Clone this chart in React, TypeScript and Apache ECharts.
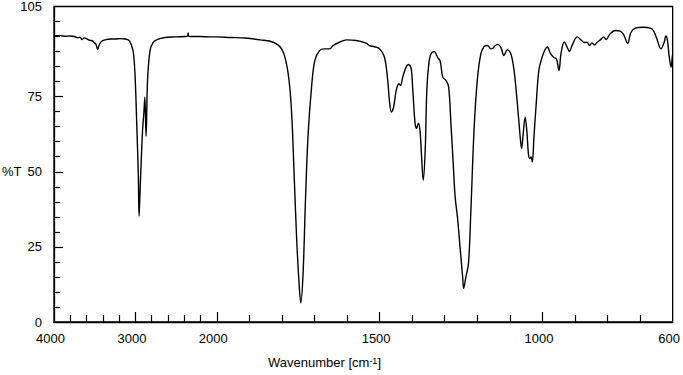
import React, { useEffect, useRef } from 'react';
import * as echarts from 'echarts';

const wavenumbers = [
  4000, 3926, 3860, 3803, 3750, 3705, 3680, 3656, 3630, 3607, 3580, 3557, 3530, 3508, 3485, 3463, 3445, 3420, 3373, 3300,
  3250, 3180, 3127, 3078, 3053, 3025, 3004, 2983, 2964, 2955, 2945, 2934, 2912, 2895, 2884, 2869, 2851, 2820, 2783, 2734,
  2636, 2513, 2390, 2360, 2353, 2345, 2300, 2205, 2082, 2000, 1959, 1913, 1867, 1827, 1801, 1786, 1776, 1769, 1763, 1755,
  1748, 1742, 1735, 1728, 1720, 1709, 1699, 1684, 1669, 1653, 1643, 1623, 1602, 1572, 1541, 1531, 1516, 1500, 1485, 1475,
  1470, 1464, 1457, 1449, 1441, 1436, 1429, 1419, 1411, 1403, 1398, 1391, 1386, 1381, 1376, 1371, 1366, 1360, 1355, 1349,
  1342, 1332, 1322, 1314, 1306, 1296, 1288, 1281, 1274, 1268, 1261, 1253, 1245, 1242, 1235, 1227, 1220, 1210, 1200, 1189,
  1179, 1169, 1158, 1151, 1148, 1138, 1128, 1118, 1108, 1097, 1087, 1077, 1070, 1064, 1059, 1053, 1048, 1043, 1039, 1035,
  1031, 1026, 1019, 1011, 1001, 992, 985, 975, 965, 957, 949, 943, 933, 922, 917, 909, 893, 883, 871, 863,
  855, 848, 840, 832, 822, 812, 804, 793, 776, 761, 751, 738, 729, 715, 689, 669, 659, 649, 636, 626,
  621, 616, 611, 605, 601, 600,
];

const transmittance = [
  95.3, 95.3, 95.1, 95.2, 95.0, 94.6, 94.8, 94.0, 94.5, 94.4, 94.0, 93.7, 93.6, 93.0, 92.4, 90.7, 92.2, 93.3, 93.9, 94.2,
  94.2, 94.3, 94.2, 93.7, 92.4, 89.7, 82.0, 65.4, 48.8, 35.2, 42.0, 49.8, 63.8, 70.0, 74.8, 61.8, 80.4, 90.4, 93.0, 94.0,
  94.7, 94.9, 95.0, 95.1, 96.2, 95.1, 95.0, 95.0, 94.9, 94.9, 94.7, 94.5, 93.9, 93.1, 90.9, 85.9, 78.2, 67.1, 50.5, 28.3,
  14.0, 6.3, 16.3, 39.5, 61.6, 78.2, 87.0, 90.4, 90.9, 90.9, 92.0, 93.1, 93.9, 93.7, 92.8, 92.0, 91.6, 90.9, 88.1, 80.4,
  73.8, 69.9, 71.5, 77.1, 79.3, 78.7, 81.5, 84.8, 85.7, 84.3, 77.1, 66.0, 64.4, 66.2, 63.8, 54.9, 47.2, 57.1, 77.1, 85.9,
  89.3, 90.0, 88.1, 86.8, 81.5, 80.4, 78.2, 66.1, 52.8, 41.6, 35.0, 25.0, 15.0, 11.2, 15.0, 19.5, 36.1, 63.8, 80.4, 89.3,
  91.7, 92.0, 90.9, 91.2, 91.7, 92.4, 91.5, 88.7, 90.6, 89.3, 83.7, 72.7, 63.8, 57.7, 62.7, 68.2, 63.8, 56.0, 54.4, 54.9,
  53.3, 61.6, 72.7, 83.7, 88.1, 90.6, 91.5, 89.3, 88.0, 87.6, 83.7, 89.3, 93.2, 91.0, 90.0, 92.0, 94.9, 94.0, 93.0, 93.1,
  92.0, 92.9, 92.2, 93.1, 93.9, 94.9, 94.0, 95.8, 97.0, 96.8, 95.7, 92.7, 96.2, 97.8, 98.1, 97.8, 97.0, 94.4, 90.9, 93.1,
  95.2, 93.7, 88.7, 84.8, 88.4, 89.0,
];

const xLabelValues = [4000, 3000, 2000, 1500, 1000, 600];
const xMajorTicks = [3000, 2000, 1500, 1000];
const xMinorTicks = [3800, 3600, 3400, 3200, 2800, 2600, 2400, 2200, 1900, 1800, 1700, 1600, 1400, 1300, 1200, 1100, 900, 800, 700];
const yLabelValues = [0, 25, 50, 75, 105];
const yMajorTicks = [25, 50, 75];
const yMinorTicks = [5, 10, 15, 20, 30, 35, 40, 45, 55, 60, 65, 70, 80, 85, 90, 95, 100];

// piecewise axis: 4000-2000 compressed by factor 4
const toT = (w: number) => (w >= 2000 ? (4000 - w) / 4 : 500 + (2000 - w));
const toW = (t: number) => (t <= 500 ? 4000 - 4 * t : 2000 - (t - 500));

const FONT = "'Liberation Sans', Arial, sans-serif";

export default function App() {
  const ref = useRef<HTMLDivElement>(null);
  useEffect(() => {
    if (!ref.current) return;
    const chart = echarts.init(ref.current, undefined, { renderer: 'svg' });
    const data = wavenumbers.map((w, i) => [toT(w), transmittance[i]]);
    const baseX = {
      type: 'value' as const,
      min: 0,
      max: 1900,
      position: 'bottom' as const,
      splitLine: { show: false },
    };
    const baseY = {
      type: 'value' as const,
      min: 0,
      max: 105,
      position: 'left' as const,
      splitLine: { show: false },
    };
    chart.setOption({
      animation: false,
      backgroundColor: '#fff',
      grid: {
        left: 54,
        right: 8,
        top: 6,
        bottom: 53,
        show: true,
        borderColor: '#000',
        borderWidth: 1.3,
      },
      xAxis: [
        {
          ...baseX,
          axisLine: { show: true, lineStyle: { color: '#000', width: 1.3 } },
          axisTick: {
            show: true,
            inside: true,
            length: 7,
            customValues: xMinorTicks.map(toT),
            lineStyle: { color: '#000', width: 1.2 },
          },
          axisLabel: {
            show: true,
            customValues: xLabelValues.map(toT),
            formatter: (v: number) => String(Math.round(toW(v))),
            color: '#000',
            fontFamily: FONT,
            fontSize: 13,
            margin: 10,
            padding: [0, 7, 0, 0],
          },
        },
        {
          ...baseX,
          axisLine: { show: false },
          axisTick: {
            show: true,
            inside: true,
            length: 10,
            customValues: xMajorTicks.map(toT),
            lineStyle: { color: '#000', width: 1.2 },
          },
          axisLabel: { show: false },
        },
      ],
      yAxis: [
        {
          ...baseY,
          axisLine: { show: true, lineStyle: { color: '#000', width: 1.3 } },
          axisTick: {
            show: true,
            inside: true,
            length: 6,
            customValues: yMinorTicks,
            lineStyle: { color: '#000', width: 1.2 },
          },
          axisLabel: {
            show: true,
            customValues: yLabelValues,
            color: '#000',
            fontFamily: FONT,
            fontSize: 13,
            margin: 12,
          },
        },
        {
          ...baseY,
          axisLine: { show: false },
          axisTick: {
            show: true,
            inside: true,
            length: 9,
            customValues: yMajorTicks,
            lineStyle: { color: '#000', width: 1.2 },
          },
          axisLabel: { show: false },
        },
      ],
      graphic: [
        {
          type: 'text',
          left: 2,
          top: 165,
          style: { text: '%T', fill: '#000', font: `13px ${FONT}` },
        },
        {
          type: 'text',
          left: 268,
          top: 356,
          style: {
            text: '{a|Wavenumber [cm}{s|-1}{a|]}',
            fill: '#000',
            rich: {
              a: { fontSize: 13, fontFamily: FONT, fill: '#000' },
              s: { fontSize: 9, fontFamily: FONT, fill: '#000', verticalAlign: 'top' },
            },
          },
        },
      ],
      series: [
        {
          type: 'line',
          xAxisIndex: 0,
          yAxisIndex: 0,
          data,
          showSymbol: false,
          smooth: 0.35,
          lineStyle: { color: '#000', width: 1.4 },
          silent: true,
        },
      ],
    });
    return () => chart.dispose();
  }, []);
  return (
    <div
      ref={ref}
      style={{ position: 'absolute', left: 0, top: 0, width: 683, height: 375, background: '#fff' }}
    />
  );
}
